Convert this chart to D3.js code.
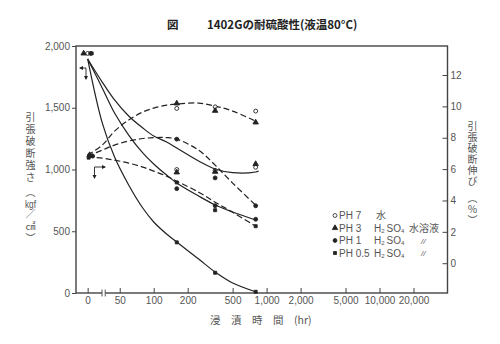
<!DOCTYPE html>
<html><head><meta charset="utf-8">
<script src="https://cdn.jsdelivr.net/npm/d3@7"></script>
<style>
html,body{margin:0;padding:0;background:#fff;}
body{position:relative;width:500px;height:344px;}
svg{display:block;font-family:"Liberation Sans","Noto Sans CJK JP",sans-serif;}
.vlabel{position:absolute;writing-mode:vertical-rl;font-family:"Noto Sans CJK JP",sans-serif;
  font-size:10px;line-height:12px;letter-spacing:1px;color:#555;white-space:nowrap;}
.vlabel .tcy{text-combine-upright:all;font-family:"Liberation Sans",sans-serif;}
</style></head><body>
<svg id="chart" width="500" height="344"></svg>
<script>
// Immersion times (hr) at which specimens were measured
const times = [0, 160, 350, 800];

// Tensile strength (kgf/cm²) per solution
const strengthPH7  = [1940, 1000, 993, 1018];
const strengthPH3  = [1940, 977, 982, 1045];
const strengthPH1  = [1940, 845, 707, 597];
const strengthPH05 = [1940, 410, 164, 10];

// Elongation at break (%) per solution
const elongPH7  = [6.9, 9.87, 9.97, 9.70];
const elongPH3  = [6.9, 10.19, 9.72, 8.98];
const elongPH1  = [6.83, 7.91, 5.44, 3.66];
const elongPH05 = [6.73, 5.15, 3.38, 2.36];

// Hand-faired trend curves (knot times in hr)
const trendTimes = [0, 35, 45, 60, 80, 100, 130, 160, 250, 350, 500, 800];
const trendTimesLong = [0, 35, 45, 60, 80, 100, 130, 160, 250, 350, 500, 800, 850];
const trendStrengthNeutral = [1895, 1708, 1563, 1433, 1336, 1271, 1223, 1174, 1069, 1004, 974, 980, 988];
const trendStrengthPH1  = [1895, 1660, 1457, 1279, 1134, 1045, 955, 891, 785, 713, 656, 591];
const trendStrengthPH05 = [1895, 1377, 1101, 875, 688, 575, 478, 413, 275, 170, 81, 10];
const trendElongNeutral = [6.89, 7.53, 8.42, 9.13, 9.64, 9.89, 10.08, 10.15, 10.21, 10.02, 9.70, 9.06];
const trendElongPH1  = [6.83, 7.21, 7.53, 7.79, 7.95, 8.01, 8.01, 7.91, 7.21, 6.25, 5.11, 3.70];
const trendElongPH05 = [6.76, 6.70, 6.57, 6.38, 6.13, 5.87, 5.55, 5.23, 4.53, 3.89, 3.25, 2.36];

// Axis ticks
const xTicks = [0, 50, 100, 200, 500, 1000, 2000, 5000, 10000, 20000];
const yLeftTicks = [0, 500, 1000, 1500, 2000];
const yRightTicks = [0, 2, 4, 6, 8, 10, 12];

// Legend text
const legendPH = ["PH 7", "PH 3", "PH 1", "PH 0.5"];
const legendMedium = ["水", "H2SO4", "H2SO4", "H2SO4"];
const legendNote = ["", "水溶液", "//", "//"];

const svg = d3.select("#chart");
const ink = "#222", grey = "#555";
const cjk = "'Noto Sans CJK JP', sans-serif";
const latin = "'Liberation Sans', sans-serif";
const plotL = 76, plotR = 447.5, plotT = 46, plotB = 293;

// log time axis; t = 0 is drawn at a reserved spot left of the break
const ZERO_AT = 26, BREAK_AT = 36;
const xLog = d3.scaleLog().domain([20.5, 40000]).range([plotL, plotR]);
const xPos = t => xLog(t === 0 ? ZERO_AT : t);
const yL = d3.scaleLinear().domain([0, 2000]).range([plotB, plotT]);
const yR = d3.scaleLinear().domain([-1.9, 13.85]).range([plotB, plotT]);

// frame
svg.append("rect").attr("x", plotL).attr("y", plotT)
  .attr("width", plotR - plotL).attr("height", plotB - plotT)
  .attr("fill", "none").attr("stroke", "#444").attr("stroke-width", 1.4);

// axes
const styleAxis = g => {
  g.select(".domain").remove();
  g.selectAll("line").attr("stroke", "#444").attr("stroke-width", 1);
  g.selectAll("text").attr("fill", grey).attr("font-size", 10).attr("font-family", latin);
};
svg.append("g").attr("transform", `translate(${plotL},0)`)
  .call(d3.axisLeft(yL).tickValues(yLeftTicks).tickSize(4).tickPadding(2).tickFormat(d3.format(",")))
  .call(styleAxis);
svg.append("g").attr("transform", `translate(${plotR},0)`)
  .call(d3.axisRight(yR).tickValues(yRightTicks).tickSizeInner(-5).tickSizeOuter(0).tickPadding(3))
  .call(styleAxis);
svg.append("g").attr("transform", `translate(0,${plotB})`)
  .call(d3.axisBottom(xLog)
    .tickValues(xTicks.map(t => t === 0 ? ZERO_AT : t))
    .tickSizeInner(-5).tickSizeOuter(0).tickPadding(4)
    .tickFormat(v => v === ZERO_AT ? "0" : d3.format(",")(v)))
  .call(styleAxis);

// axis break
const bx = xLog(BREAK_AT);
svg.append("rect").attr("x", bx - 1.5).attr("y", plotB - 2).attr("width", 3).attr("height", 4).attr("fill", "#fff");
[-1.6, 1.6].forEach(d => svg.append("line")
  .attr("x1", bx + d).attr("x2", bx + d).attr("y1", plotB - 3.5).attr("y2", plotB + 3.5)
  .attr("stroke", "#444").attr("stroke-width", 0.9));

// trend curves
const curve = d3.curveCatmullRom.alpha(0.5);
const drawTrend = (ts, vs, y, dashed) => svg.append("path")
  .datum(ts.map((t, i) => [t, vs[i]]))
  .attr("d", d3.line().x(d => xPos(d[0])).y(d => y(d[1])).curve(curve))
  .attr("fill", "none").attr("stroke", ink).attr("stroke-width", 1.2)
  .attr("stroke-dasharray", dashed ? "6,3" : null);
drawTrend(trendTimesLong, trendStrengthNeutral, yL, false);
drawTrend(trendTimes, trendStrengthPH1, yL, false);
drawTrend(trendTimes, trendStrengthPH05, yL, false);
drawTrend(trendTimes, trendElongNeutral, yR, true);
drawTrend(trendTimes, trendElongPH1, yR, true);
drawTrend(trendTimes, trendElongPH05, yR, true);

// markers
const markers = [
  {type: d3.symbolCircle, size: 12, fill: "#fff", s: strengthPH7, e: elongPH7, ds: 0, de: 2},
  {type: d3.symbolTriangle, size: 13, fill: ink, s: strengthPH3, e: elongPH3, ds: -4, de: 2},
  {type: d3.symbolCircle, size: 12, fill: ink, s: strengthPH1, e: elongPH1, ds: 3, de: 5},
  {type: d3.symbolSquare, size: 9, fill: ink, s: strengthPH05, e: elongPH05, ds: 4, de: 1}
];
const drawMarks = (m, vals, y, dodge) => {
  svg.append("g").selectAll("path").data(times.map((t, i) => [t, vals[i]])).join("path")
    .attr("transform", d => `translate(${xPos(d[0]) + (d[0] === 0 ? dodge : 0)},${y(d[1])})`)
    .attr("d", d3.symbol().type(m.type).size(m.size))
    .attr("fill", m.fill).attr("stroke", ink).attr("stroke-width", 0.9);
};
markers.forEach(m => { drawMarks(m, m.e, yR, m.de); });
markers.forEach(m => { drawMarks(m, m.s, yL, m.ds); });

// elbow arrows showing which axis each curve family uses
const arrowHead = (x, y, dir) => {
  const pts = {left: [[x, y], [x + 4, y - 2], [x + 4, y + 2]],
               right: [[x, y], [x - 4, y - 2], [x - 4, y + 2]],
               down: [[x, y], [x - 2, y - 4], [x + 2, y - 4]]}[dir];
  svg.append("polygon").attr("points", pts.map(p => p.join(",")).join(" ")).attr("fill", ink);
};
const elbow = (pts) => svg.append("polyline").attr("points", pts.map(p => p.join(",")).join(" "))
  .attr("fill", "none").attr("stroke", ink).attr("stroke-width", 0.9);
elbow([[80, 68], [86, 68], [86, 79]]); arrowHead(79, 68, "left"); arrowHead(86, 80, "down");
elbow([[94.5, 178], [94.5, 167], [105, 167]]); arrowHead(106, 167, "right"); arrowHead(94.5, 179, "down");

// title
svg.append("text").attr("x", 167).attr("y", 29).attr("font-size", 11.5).attr("font-weight", "bold")
  .attr("font-family", cjk).attr("fill", "#222").text("図");
svg.append("text").attr("x", 207).attr("y", 29).attr("font-size", 11.5).attr("font-weight", "bold")
  .attr("font-family", cjk).attr("fill", "#222").text("1402Gの耐硫酸性(液温80°C)");

// x axis title
svg.append("text").attr("x", 210).attr("y", 324).attr("font-size", 10.5)
  .attr("font-family", cjk).attr("fill", grey)
  .text("浸\u3000漬\u3000時\u3000間\u3000(hr)");

// vertical axis titles, set in vertical writing mode
const leftTitle = d3.select("body").append("div").attr("class", "vlabel")
  .style("left", "24px").style("top", "112px").style("letter-spacing", "2px");
leftTitle.append("span").text("引張破断強さ");
const unit = leftTitle.append("span").style("margin-top", "3px");
unit.append("span").text("（");
unit.append("span").attr("class", "tcy").text("kgf");
unit.append("span").text("／㎠）");
const rightTitle = d3.select("body").append("div").attr("class", "vlabel")
  .style("left", "466px").style("top", "121px");
rightTitle.append("span").text("引張破断伸び");
rightTitle.append("span").style("margin-top", "6px").text("（％）");

// legend
const legRowY = [219, 231.5, 244, 256.5];
markers.forEach((m, i) => {
  const y = legRowY[i];
  svg.append("path").attr("transform", `translate(335,${y - 3.5})`)
    .attr("d", d3.symbol().type(m.type).size(m.size))
    .attr("fill", m.fill).attr("stroke", ink).attr("stroke-width", 0.8);
  svg.append("text").attr("x", 339).attr("y", y).attr("font-size", 10).attr("fill", grey)
    .attr("font-family", latin).text(legendPH[i]);
  const med = svg.append("text").attr("x", 374).attr("y", y).attr("font-size", 10).attr("fill", grey);
  if (legendMedium[i] === "H2SO4") {
    med.attr("font-family", latin);
    med.append("tspan").text("H");
    med.append("tspan").attr("font-size", 6).attr("dy", 1).text("2");
    med.append("tspan").attr("dy", -1).attr("dx", 2).text("SO");
    med.append("tspan").attr("font-size", 6).attr("dy", 1).text("4");
  } else {
    med.attr("x", 376).attr("font-family", cjk).text(legendMedium[i]);
  }
  if (legendNote[i] === "//") {
    svg.append("text").attr("x", 421).attr("y", y - 0.5).attr("font-size", 8).attr("font-style", "italic")
      .attr("font-family", latin).attr("fill", grey).text(legendNote[i]);
  } else if (legendNote[i]) {
    svg.append("text").attr("x", 409).attr("y", y).attr("font-size", 10)
      .attr("font-family", cjk).attr("fill", grey).text(legendNote[i]);
  }
});
</script>
</body></html>
